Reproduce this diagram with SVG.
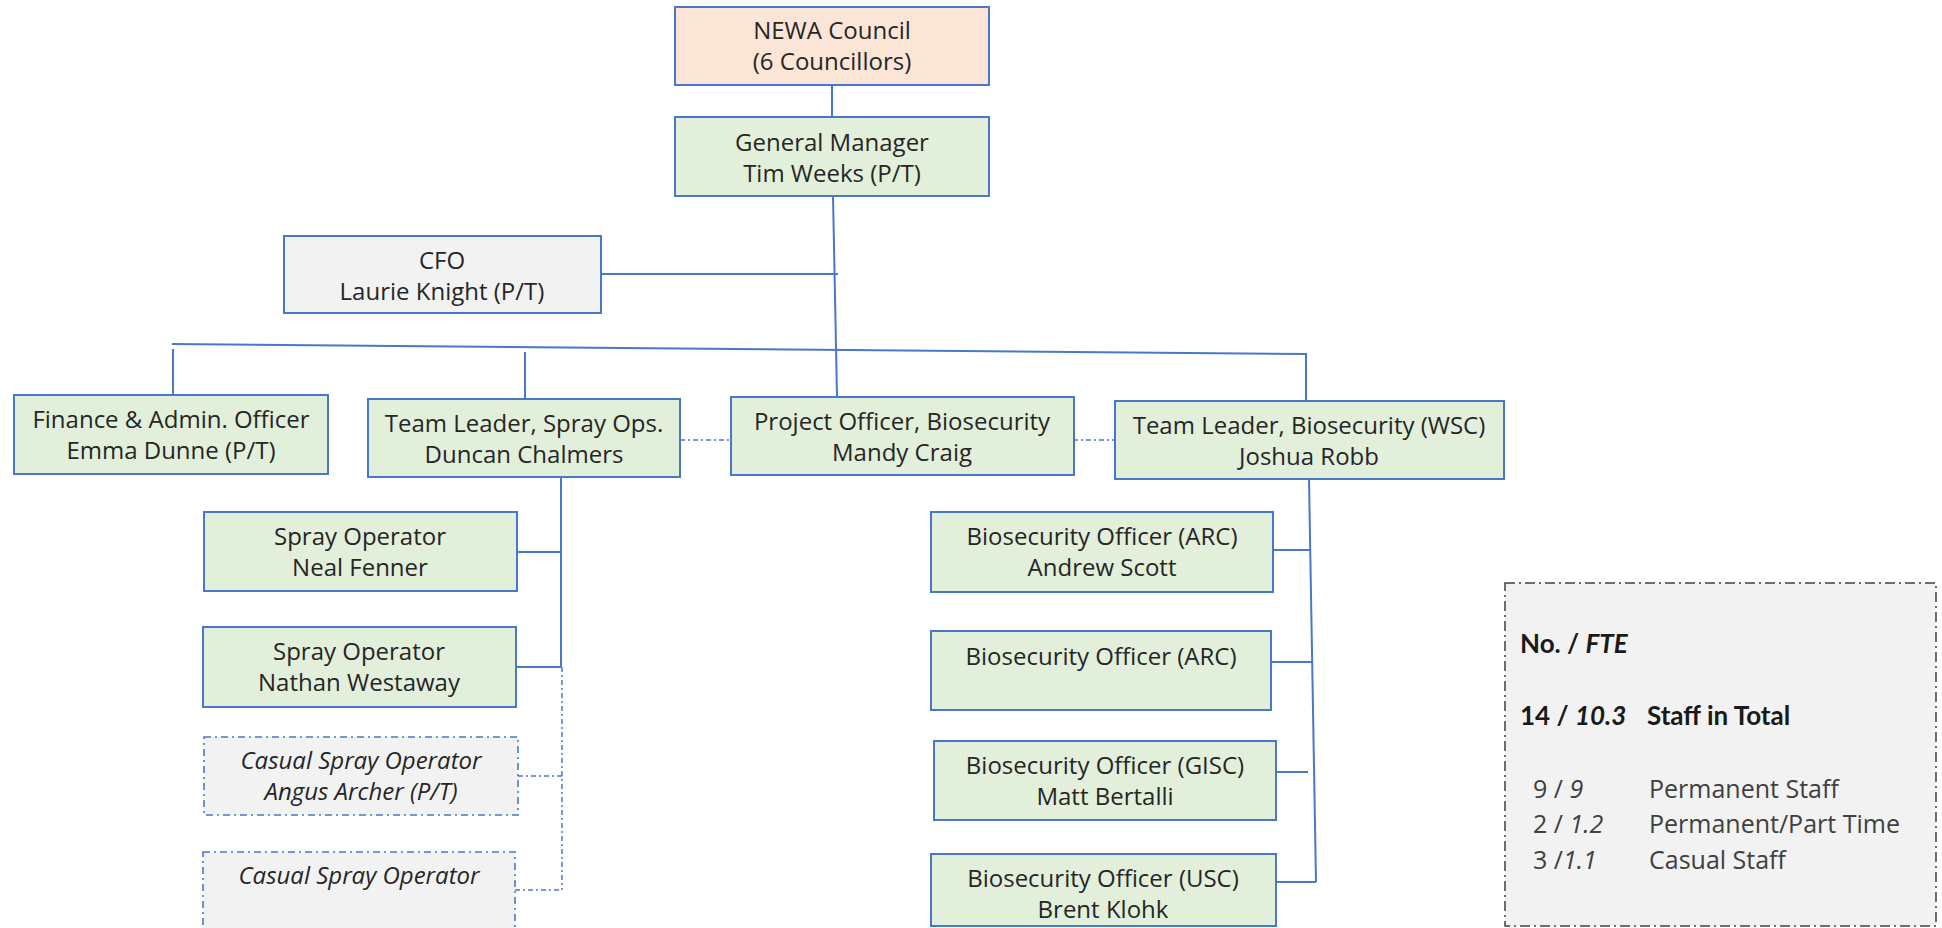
<svg xmlns="http://www.w3.org/2000/svg" width="1942" height="928" viewBox="0 0 1942 928">
<style>
  .box { stroke: #4A78C8; stroke-width: 2; }
  .green { fill: #E2EFDA; }
  .peach { fill: #FBE5D6; }
  .grey { fill: #F2F2F2; }
  .casual { fill: #F2F2F2; stroke: #4A78C8; stroke-width: 1.6; stroke-dasharray: 7 4 2 4; }
  .t { font-family: "Open Sans", "Noto Sans", sans-serif; font-size: 24px; fill: #262626; text-anchor: middle; }
  .ti { font-style: italic; }
  .conn line { stroke: #4A78C8; stroke-width: 2; fill: none; }
  .conn .dot { stroke-width: 1.5; stroke-dasharray: 5 3 2 3; }
  .legend-box { fill: #F2F2F2; stroke: #404040; stroke-width: 1.5; stroke-dasharray: 10 4 2 4; }
  .lb { font-family: "Lato", "Liberation Sans", sans-serif; font-weight: bold; font-size: 26px; fill: #1a1a1a; }
  .lr { font-family: "Open Sans", "Noto Sans", sans-serif; font-size: 25px; fill: #404040; }
</style>

<g id="connectors" class="conn">
  <line x1="832" y1="85" x2="832" y2="117"/>
  <line x1="833" y1="196" x2="837" y2="397"/>
  <line x1="601" y1="274" x2="838" y2="274"/>
  <line x1="172" y1="344" x2="1307" y2="354"/>
  <line x1="173" y1="349" x2="173" y2="395"/>
  <line x1="525" y1="352" x2="525" y2="399"/>
  <line x1="1306" y1="354" x2="1306" y2="401"/>
  <line class="dot" x1="680" y1="440" x2="731" y2="440"/>
  <line class="dot" x1="1073" y1="440" x2="1115" y2="440"/>
  <line x1="561" y1="477" x2="561" y2="667"/>
  <line x1="517" y1="552" x2="561" y2="552"/>
  <line x1="516" y1="667" x2="561" y2="667"/>
  <line class="dot" x1="562" y1="667" x2="562" y2="890"/>
  <line class="dot" x1="518" y1="776" x2="562" y2="776"/>
  <line class="dot" x1="515" y1="890" x2="562" y2="890"/>
  <line x1="1309" y1="479" x2="1316" y2="882"/>
  <line x1="1273" y1="550" x2="1310" y2="550"/>
  <line x1="1271" y1="662" x2="1312" y2="662"/>
  <line x1="1276" y1="772" x2="1308" y2="772"/>
  <line x1="1276" y1="882" x2="1316" y2="882"/>
</g>

<g id="newa-council">
  <rect class="box peach" x="675" y="7" width="314" height="78"/>
  <text class="t" x="832" y="39">NEWA Council</text>
  <text class="t" x="832" y="70">(6 Councillors)</text>
</g>
<g id="general-manager">
  <rect class="box green" x="675" y="117" width="314" height="79"/>
  <text class="t" x="832" y="151">General Manager</text>
  <text class="t" x="832" y="182">Tim Weeks (P/T)</text>
</g>
<g id="cfo">
  <rect class="box grey" x="284" y="236" width="317" height="77"/>
  <text class="t" x="442" y="269">CFO</text>
  <text class="t" x="442" y="300">Laurie Knight (P/T)</text>
</g>
<g id="finance-officer">
  <rect class="box green" x="14" y="395" width="314" height="79"/>
  <text class="t" x="171" y="428">Finance &amp; Admin. Officer</text>
  <text class="t" x="171" y="459">Emma Dunne (P/T)</text>
</g>
<g id="team-leader-spray">
  <rect class="box green" x="368" y="399" width="312" height="78"/>
  <text class="t" x="524" y="432">Team Leader, Spray Ops.</text>
  <text class="t" x="524" y="463">Duncan Chalmers</text>
</g>
<g id="project-officer">
  <rect class="box green" x="731" y="397" width="343" height="78"/>
  <text class="t" x="902" y="430">Project Officer, Biosecurity</text>
  <text class="t" x="902" y="461">Mandy Craig</text>
</g>
<g id="team-leader-bio">
  <rect class="box green" x="1115" y="401" width="389" height="78"/>
  <text class="t" x="1309" y="434">Team Leader, Biosecurity (WSC)</text>
  <text class="t" x="1309" y="465">Joshua Robb</text>
</g>
<g id="spray-operator-neal">
  <rect class="box green" x="204" y="512" width="313" height="79"/>
  <text class="t" x="360" y="545">Spray Operator</text>
  <text class="t" x="360" y="576">Neal Fenner</text>
</g>
<g id="spray-operator-nathan">
  <rect class="box green" x="203" y="627" width="313" height="80"/>
  <text class="t" x="359" y="660">Spray Operator</text>
  <text class="t" x="359" y="691">Nathan Westaway</text>
</g>
<g id="casual-angus">
  <rect class="casual" x="204" y="737" width="314" height="78"/>
  <text class="t ti" x="361" y="769">Casual Spray Operator</text>
  <text class="t ti" x="361" y="800">Angus Archer (P/T)</text>
</g>
<g id="casual-spray">
  <rect class="casual" x="203" y="852" width="312" height="90"/>
  <text class="t ti" x="359" y="884">Casual Spray Operator</text>
</g>
<g id="bio-andrew">
  <rect class="box green" x="931" y="512" width="342" height="80"/>
  <text class="t" x="1102" y="545">Biosecurity Officer (ARC)</text>
  <text class="t" x="1102" y="576">Andrew Scott</text>
</g>
<g id="bio-arc">
  <rect class="box green" x="931" y="631" width="340" height="79"/>
  <text class="t" x="1101" y="665">Biosecurity Officer (ARC)</text>
</g>
<g id="bio-gisc">
  <rect class="box green" x="934" y="741" width="342" height="79"/>
  <text class="t" x="1105" y="774">Biosecurity Officer (GISC)</text>
  <text class="t" x="1105" y="805">Matt Bertalli</text>
</g>
<g id="bio-usc">
  <rect class="box green" x="931" y="854" width="345" height="72"/>
  <text class="t" x="1103" y="887">Biosecurity Officer (USC)</text>
  <text class="t" x="1103" y="918">Brent Klohk</text>
</g>

<g id="legend">
  <rect class="legend-box" x="1505" y="583" width="431" height="343"/>
  <text class="lb" x="1520" y="653">No. / <tspan font-style="italic">FTE</tspan></text>
  <text class="lb" x="1520" y="725">14 / <tspan font-style="italic">10.3</tspan></text>
  <text class="lb" x="1647" y="725">Staff in Total</text>
  <text class="lr" x="1533" y="798">9 / <tspan font-style="italic">9</tspan></text>
  <text class="lr" x="1649" y="798">Permanent Staff</text>
  <text class="lr" x="1533" y="833">2 / <tspan font-style="italic">1.2</tspan></text>
  <text class="lr" x="1649" y="833">Permanent/Part Time</text>
  <text class="lr" x="1533" y="869">3 /<tspan font-style="italic">1.1</tspan></text>
  <text class="lr" x="1649" y="869">Casual Staff</text>
</g>
</svg>
